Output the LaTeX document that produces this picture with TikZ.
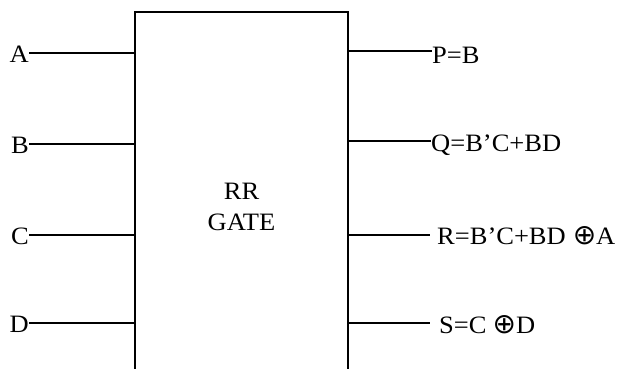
\documentclass[tikz,border=0pt]{standalone}
\usepackage{fontspec}
\setmainfont{Liberation Serif}[FakeStretch=1.06]
\newfontfamily\opfont{DejaVu Sans}
\newcommand{\xorsym}{{\opfont\fontsize{28}{28}\selectfont ⊕}}
\begin{document}
\begin{tikzpicture}[x=1pt,y=1pt]
\tikzset{wire/.style={line width=1.6pt}, lbl/.style={inner sep=0pt, font=\fontsize{25}{31}\selectfont}}
\useasboundingbox (0,0) rectangle (619,369);
\coordinate (bl) at (135,0);
\coordinate (tl) at (135,357);
\coordinate (tr) at (348,357);
\coordinate (br) at (348,0);
\draw[wire] (bl) -- (tl) -- (tr) -- (br);
\node[lbl, align=center, anchor=base] (title) at (241.5,138) {RR\\GATE};
\foreach \name/\y in {A/316,B/225,C/134,D/46}{
  \coordinate (end\name) at (29,\y);
  \node[lbl, anchor=east, yshift=-1pt] (in\name) at (end\name) {\name};
  \draw[wire] (end\name) -- (end\name -| bl);
}
\coordinate (endP) at (432,318);
\coordinate (endQ) at (431,228);
\coordinate (endR) at (430,134);
\coordinate (endS) at (430,46);
\node[lbl, anchor=west, yshift=-4pt] (outP) at (endP) {P=B};
\node[lbl, anchor=west, yshift=-4pt] (outQ) at (endQ) {Q=B’C+BD};
\node[lbl, anchor=west, xshift=7pt, yshift=-1pt] (outR) at (endR) {R=B’C+BD\hspace{7pt}\xorsym A};
\node[lbl, anchor=west, xshift=9pt, yshift=-2pt] (outS) at (endS) {S=C\hspace{6pt}\xorsym D};
\foreach \name in {P,Q,R,S}{
  \draw[wire] (end\name -| tr) -- (end\name);
}
\end{tikzpicture}
\end{document}
